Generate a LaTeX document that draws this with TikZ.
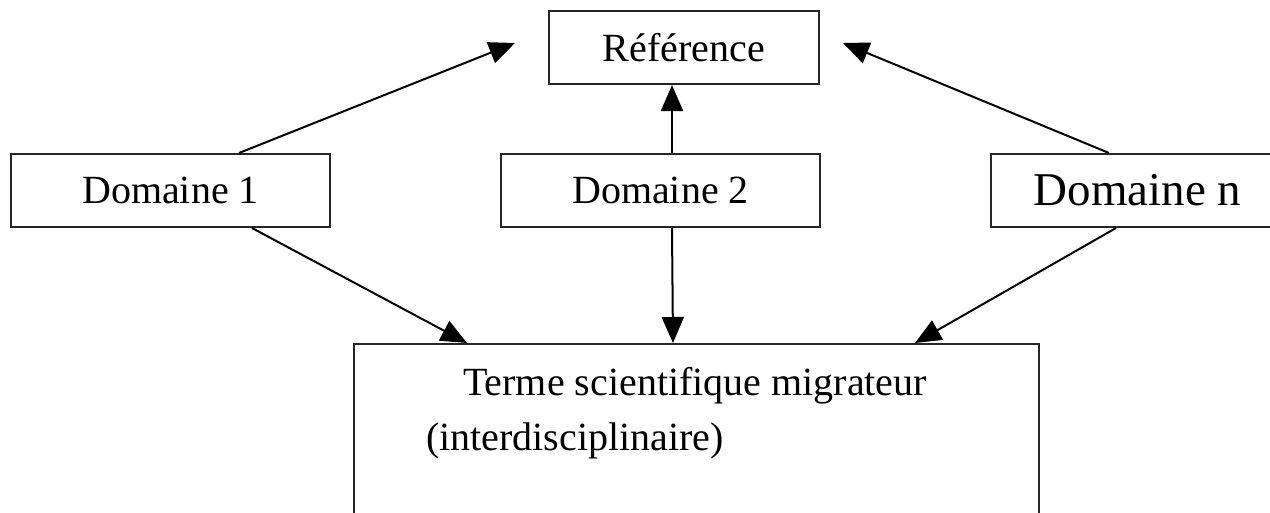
\documentclass[tikz,border=0pt]{standalone}
\usepackage{fontspec}
\setmainfont{Liberation Serif}
\usetikzlibrary{arrows.meta}
\tikzset{
  box/.style={draw=black!85, line width=2pt, inner sep=0pt, fill=none},
  lbl/.style={inner sep=0pt, font=\fontsize{40}{48}\selectfont},
  conn/.style={line width=2pt, -{Triangle[length=26pt,width=22pt]}},
}
\begin{document}
\begin{tikzpicture}[x=1pt,y=1pt]
\useasboundingbox (0,0) rectangle (1270,-512);
% boxes
\node[box, minimum width=270pt, minimum height=73pt] (ref) at (684,-47.5) {};
\node[lbl] (reft) at (ref.center) {Référence};
\node[box, minimum width=319pt, minimum height=73pt] (d1) at (170.5,-190.5) {};
\node[lbl] (d1t) at (d1.center) {Domaine 1};
\node[box, minimum width=319pt, minimum height=73pt] (d2) at (660.5,-190.5) {};
\node[lbl] (d2t) at (d2.center) {Domaine 2};
\node[box, minimum width=293pt, minimum height=73pt] (dn) at (1137.5,-190.5) {};
\node[lbl, font=\fontsize{47}{56}\selectfont] (dnt) at (dn.center) {Domaine n};
\node[box, minimum width=685pt, minimum height=190pt] (term) at (696.5,-439) {};
\node[lbl, anchor=base west] (tt1) at (463,-395) {Terme scientifique migrateur};
\node[lbl, anchor=base west] (tt2) at (426,-450) {(interdisciplinaire)};
% free arrow tips
\coordinate (tip1) at (515,-43);
\coordinate (tipn) at (843,-43);
\coordinate (tb1) at (467,-343);
\coordinate (tb2) at (673,-343);
\coordinate (tbn) at (915,-343);
% connectors
\draw[conn] ([xshift=229pt]d1.north west) -- (tip1);
\draw[conn] ([xshift=172pt]d2.north west) -- ([xshift=124pt]ref.south west);
\draw[conn] ([xshift=119pt]dn.north west) -- (tipn);
\draw[conn] ([xshift=242pt]d1.south west) -- (tb1);
\draw[conn] ([xshift=172pt]d2.south west) -- (tb2);
\draw[conn] ([xshift=126pt]dn.south west) -- (tbn);
\end{tikzpicture}
\end{document}
